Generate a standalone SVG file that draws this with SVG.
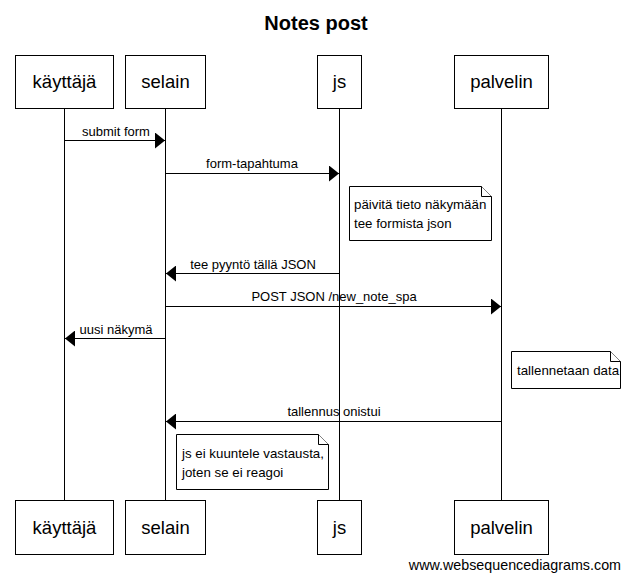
<svg xmlns="http://www.w3.org/2000/svg" width="630" height="580" viewBox="0 0 630 580">
<style>
  .box { fill: #fff; stroke: #000; stroke-width: 1; }
  .life { stroke: #000; stroke-width: 1; fill: none; }
  .msg { stroke: #000; stroke-width: 1; fill: none; marker-end: url(#arrow); }
  .note { fill: #fff; stroke: #000; stroke-width: 1; }
  .pt { font-family: "Liberation Sans", Arial, sans-serif; font-size: 18.5px; text-anchor: middle; fill: #000; }
  .lbl { font-family: "Liberation Sans", Arial, sans-serif; font-size: 13px; text-anchor: middle; fill: #000; }
  .nt { font-family: "Liberation Sans", Arial, sans-serif; font-size: 13.3px; fill: #000; }
  .title { font-family: "Liberation Sans", Arial, sans-serif; font-size: 20px; font-weight: bold; text-anchor: middle; fill: #000; }
  .foot { font-family: "Liberation Sans", Arial, sans-serif; font-size: 14.3px; text-anchor: end; fill: #000; }
</style>
<defs>
  <marker id="arrow" markerUnits="userSpaceOnUse" markerWidth="10" markerHeight="16" refX="10" refY="8" orient="auto">
    <path d="M0,0 L10,8 L0,16 z" fill="#000"/>
  </marker>
</defs>
<rect width="630" height="580" fill="#fff"/>
<text class="title" x="316" y="30">Notes post</text>

<g id="lifelines">
  <line class="life" x1="64.5" y1="108.5" x2="64.5" y2="500.5"/>
  <line class="life" x1="165.5" y1="108.5" x2="165.5" y2="500.5"/>
  <line class="life" x1="339.5" y1="108.5" x2="339.5" y2="500.5"/>
  <line class="life" x1="501.5" y1="108.5" x2="501.5" y2="500.5"/>
</g>

<g id="kayttaja">
  <rect class="box" x="15.5" y="55.5" width="98" height="53"/>
  <text class="pt" x="64.5" y="88">käyttäjä</text>
  <rect class="box" x="15.5" y="500.5" width="98" height="54"/>
  <text class="pt" x="64.5" y="534">käyttäjä</text>
</g>
<g id="selain">
  <rect class="box" x="125.5" y="55.5" width="80" height="53"/>
  <text class="pt" x="165.5" y="88">selain</text>
  <rect class="box" x="125.5" y="500.5" width="80" height="54"/>
  <text class="pt" x="165.5" y="534">selain</text>
</g>
<g id="js">
  <rect class="box" x="317.5" y="55.5" width="44" height="53"/>
  <text class="pt" x="339.5" y="88">js</text>
  <rect class="box" x="317.5" y="500.5" width="44" height="54"/>
  <text class="pt" x="339.5" y="534">js</text>
</g>
<g id="palvelin">
  <rect class="box" x="454.5" y="55.5" width="94" height="53"/>
  <text class="pt" x="501.5" y="88">palvelin</text>
  <rect class="box" x="454.5" y="500.5" width="94" height="54"/>
  <text class="pt" x="501.5" y="534">palvelin</text>
</g>

<g id="connectors">
  <line class="msg" x1="64.5" y1="140.5" x2="165" y2="140.5"/>
  <text class="lbl" x="116" y="136">submit form</text>
  <line class="msg" x1="165.5" y1="173.5" x2="339" y2="173.5"/>
  <text class="lbl" x="252" y="168">form-tapahtuma</text>
  <line class="msg" x1="339.5" y1="273.5" x2="166" y2="273.5"/>
  <text class="lbl" x="253" y="269">tee pyyntö tällä JSON</text>
  <line class="msg" x1="165.5" y1="306.5" x2="501" y2="306.5"/>
  <text class="lbl" x="334" y="301">POST JSON /new_note_spa</text>
  <line class="msg" x1="165.5" y1="338.5" x2="65" y2="338.5"/>
  <text class="lbl" x="116" y="334">uusi näkymä</text>
  <line class="msg" x1="501.5" y1="421.5" x2="166" y2="421.5"/>
  <text class="lbl" x="334" y="416">tallennus onistui</text>
</g>

<g id="note1">
  <path class="note" d="M349.5,186.5 H481.5 L491.5,196.5 V240.5 H349.5 Z"/>
  <path class="note" d="M481.5,186.5 V196.5 H491.5" fill="none"/>
  <text class="nt" x="354" y="209">päivitä tieto näkymään</text>
  <text class="nt" x="354" y="228">tee formista json</text>
</g>
<g id="note2">
  <path class="note" d="M511.5,351.5 H610.5 L620.5,361.5 V388.5 H511.5 Z"/>
  <path class="note" d="M610.5,351.5 V361.5 H620.5" fill="none"/>
  <text class="nt" x="517" y="375">tallennetaan data</text>
</g>
<g id="note3">
  <path class="note" d="M176.5,434.5 H318.5 L328.5,444.5 V489.5 H176.5 Z"/>
  <path class="note" d="M318.5,434.5 V444.5 H328.5" fill="none"/>
  <text class="nt" x="182" y="458">js ei kuuntele vastausta,</text>
  <text class="nt" x="182" y="477">joten se ei reagoi</text>
</g>

<text class="foot" x="621" y="570">www.websequencediagrams.com</text>
</svg>
